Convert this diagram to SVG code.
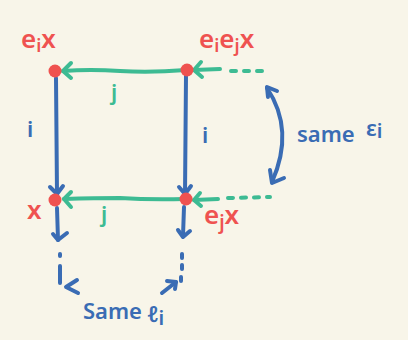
<svg xmlns="http://www.w3.org/2000/svg" width="408" height="340" viewBox="0 0 408 340">
<style>
.bg{fill:#f8f5e9}
.g{stroke:#3dbb93;stroke-width:4;fill:none;stroke-linecap:round;stroke-linejoin:round}
.gd{stroke:#3dbb93;stroke-width:4;fill:none;stroke-linecap:round;stroke-dasharray:5 8}
.b{stroke:#3a6cb4;stroke-width:4;fill:none;stroke-linecap:round;stroke-linejoin:round}
.dot{fill:#ef5250}
.rt{fill:#ef5250;font-family:"Noto Sans","DejaVu Sans",sans-serif;font-size:26px;font-weight:600}
.gt{fill:#3dbb93;font-family:"Noto Sans","DejaVu Sans",sans-serif;font-size:22px;font-weight:600}
.bt{fill:#3a6cb4;font-family:"Noto Sans","DejaVu Sans",sans-serif;font-size:22px;font-weight:600}
</style>
<rect class="bg" x="0" y="0" width="408" height="340"/>
<g id="connectors">
  <path class="g" d="M186 70 Q150 73 120 71 Q90 69 63 71"/>
  <path class="g" d="M71 63 L63 71 L71 78"/>
  <path class="g" d="M220 69 L194 70"/>
  <path class="g" d="M201 62 L194 70 L202 77"/>
  <path class="gd" d="M231 71 L266 71"/>
  <path class="g" d="M185 199 Q150 200 120 198 Q95 198 64 199"/>
  <path class="g" d="M71 192 L64 199 L71 207"/>
  <path class="g" d="M218 199 L194 200"/>
  <path class="g" d="M200 193 L194 200 L201 206"/>
  <path class="gd" d="M228 198 L270 197"/>
  <path class="b" d="M56 78 L57 194"/>
  <path class="b" d="M50 187 L57 194 L63 186"/>
  <path class="b" d="M186 76 L185 194"/>
  <path class="b" d="M179 187 L185 194 L191 186"/>
  <path class="b" d="M57 208 L58 240"/>
  <path class="b" d="M53 234 L58 240 L67 233"/>
  <path class="b" d="M60 254 L60 256"/>
  <path class="b" d="M60 266 L60 283"/>
  <path class="b" d="M77 280 L66 287 L78 293"/>
  <path class="b" d="M184 207 L183 236"/>
  <path class="b" d="M178 230 L183 237 L190 231"/>
  <path class="b" d="M182 254 L182 258"/>
  <path class="b" d="M182 265 L182 269"/>
  <path class="b" d="M181 277 L181 281"/>
  <path class="b" d="M162 293 L176 282"/>
  <path class="b" d="M167 281 L176 282 L175 289"/>
  <path class="b" d="M267 88 Q295 130 272 182"/>
  <path class="b" d="M277 91 L267 87 L268 97"/>
  <path class="b" d="M270 170 L272 183 L284 178"/>
</g>
<g id="node-eix">
  <circle class="dot" cx="55" cy="71" r="6.5"/>
  <text class="rt" x="21" y="48">e<tspan font-size="18" dy="4">i</tspan><tspan dy="-4">x</tspan></text>
</g>
<g id="node-eiejx">
  <circle class="dot" cx="187" cy="70" r="6.5"/>
  <text class="rt" x="199" y="48">e<tspan font-size="18" dy="4">i</tspan><tspan dy="-4">e</tspan><tspan font-size="18" dy="4">j</tspan><tspan dy="-4">x</tspan></text>
</g>
<g id="node-x">
  <circle class="dot" cx="55" cy="200" r="6.5"/>
  <text class="rt" x="27" y="219" font-size="22">x</text>
</g>
<g id="node-ejx">
  <circle class="dot" cx="186" cy="199" r="6.5"/>
  <text class="rt" x="204" y="224">e<tspan font-size="19" dy="5">j</tspan><tspan dy="-5">x</tspan></text>
</g>
<g id="labels">
  <text class="gt" x="111" y="100">j</text>
  <text class="gt" x="101" y="222">j</text>
  <text class="bt" x="27" y="137">i</text>
  <text class="bt" x="202" y="143">i</text>
  <text class="bt" x="297" y="142">same</text>
  <text class="bt" x="366" y="136" font-size="30">ε<tspan font-size="20" dy="2">i</tspan></text>
  <text class="bt" x="83" y="319">Same</text>
  <text class="bt" x="147" y="322" font-size="28">ℓ<tspan font-size="20" dy="3">i</tspan></text>
</g>
</svg>
